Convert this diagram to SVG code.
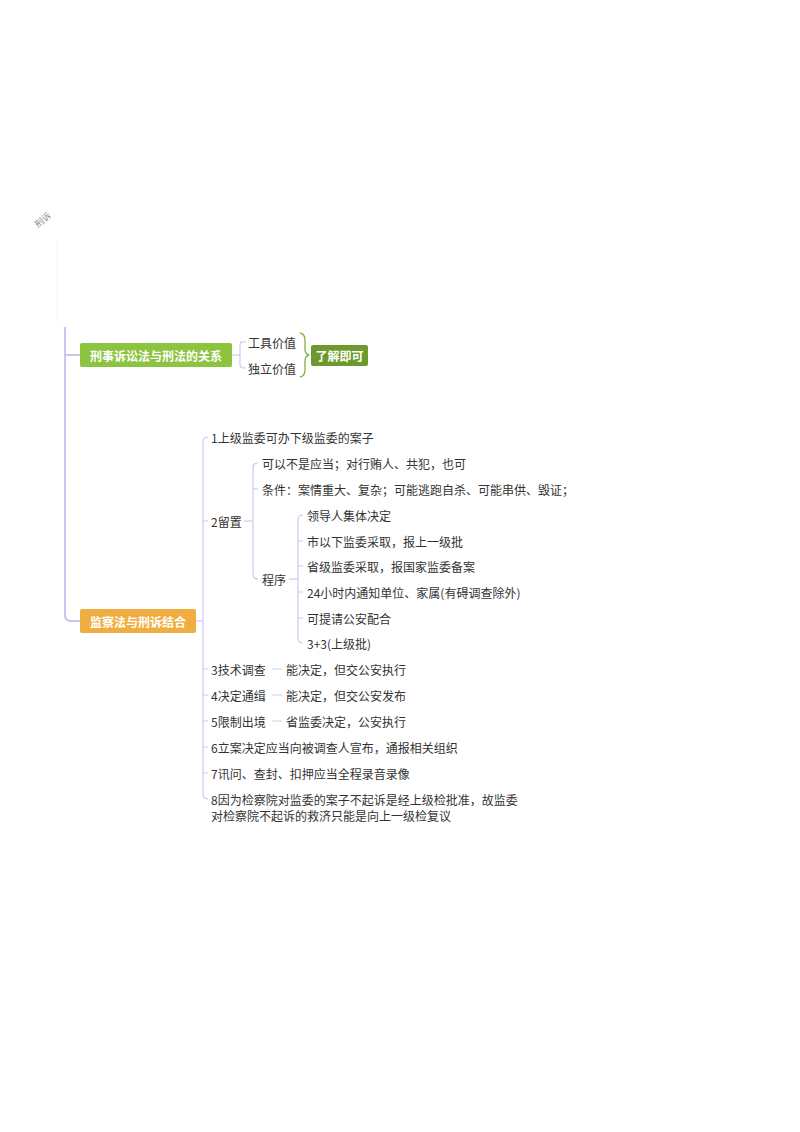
<svg xmlns="http://www.w3.org/2000/svg" width="800" height="1132" viewBox="0 0 800 1132">
<style>
.t{font-family:"Noto Sans CJK SC","Noto Sans",sans-serif;font-size:12px;fill:#333333;dominant-baseline:central}
.nt{font-family:"Noto Sans CJK SC","Noto Sans",sans-serif;font-size:12px;font-weight:bold;fill:#ffffff;dominant-baseline:central;text-anchor:middle}
.c{fill:none;stroke:#cfc8f2;stroke-width:1.2}
.trunk{fill:none;stroke:#cbc3f0;stroke-width:2}
</style>
<rect width="800" height="1132" fill="#ffffff"/>
<text x="33" y="224" transform="rotate(-40 41 219)" style="font-family:'Noto Sans CJK SC',sans-serif;font-size:9px;fill:#8a8a8a">刑诉</text>
<g id="connectors">
<path d="M57.5 240 V322" stroke="#f5f5f8" stroke-width="1.5" fill="none"/>
<path class="trunk" d="M65 327 V615 Q65 621 71 621 H80"/>
<path class="trunk" d="M65 355 H80"/>
<path class="c" d="M232 355 H240"/>
<path class="c" d="M244 342 Q240 342 240 346 V364 Q240 368 244 368 H246 M240 342 H246"/>
<path d="M300 333 Q305 334 305 340 V349 Q305 354 309 355 Q305 356 305 361 V370 Q305 376 300 377" fill="none" stroke="#7cb342" stroke-width="1.3"/>
<path class="c" d="M196 621 H203"/>
<path class="c" d="M208 437 Q203 437 203 442 V794 Q203 799 208 799"/>
<path class="c" d="M203 521 H208 M203 669 H208 M203 695 H208 M203 721 H208 M203 747 H208 M203 773 H208"/>
<path class="c" d="M272 669 H282 M272 695 H282 M272 721 H282"/>
<path class="c" d="M244 521 H253"/>
<path class="c" d="M258 463 Q253 463 253 468 V574 Q253 579 258 579"/>
<path class="c" d="M253 489 H258"/>
<path class="c" d="M289 579 H298"/>
<path class="c" d="M303 515 Q298 515 298 520 V638 Q298 643 303 643"/>
<path class="c" d="M298 541 H303 M298 566 H303 M298 592 H303 M298 618 H303"/>
</g>
<g id="node-relation">
<rect x="80" y="343" width="152" height="24" rx="2" fill="#8cc43f"/>
<text class="nt" x="156" y="355">刑事诉讼法与刑法的关系</text>
</g>
<g id="node-tool"><text class="t" x="248" y="342">工具价值</text></g>
<g id="node-indep"><text class="t" x="248" y="368">独立价值</text></g>
<g id="node-know">
<rect x="311" y="345" width="57" height="21" rx="2" fill="#6c9a2c"/>
<text class="nt" x="339.5" y="355.5">了解即可</text>
</g>
<g id="node-combine">
<rect x="80" y="609" width="116" height="24" rx="2" fill="#f0ae42"/>
<text class="nt" x="138" y="621">监察法与刑诉结合</text>
</g>
<g id="n1"><text class="t" x="211" y="437">1上级监委可办下级监委的案子</text></g>
<g id="n2"><text class="t" x="211" y="521">2留置</text></g>
<g id="n2a"><text class="t" x="262" y="463">可以不是应当；对行贿人、共犯，也可</text></g>
<g id="n2b"><text class="t" x="262" y="489">条件：案情重大、复杂；可能逃跑自杀、可能串供、毁证；</text></g>
<g id="n2c"><text class="t" x="262" y="579">程序</text></g>
<g id="p1"><text class="t" x="307" y="515">领导人集体决定</text></g>
<g id="p2"><text class="t" x="307" y="541">市以下监委采取，报上一级批</text></g>
<g id="p3"><text class="t" x="307" y="566">省级监委采取，报国家监委备案</text></g>
<g id="p4"><text class="t" x="307" y="592">24小时内通知单位、家属(有碍调查除外)</text></g>
<g id="p5"><text class="t" x="307" y="618">可提请公安配合</text></g>
<g id="p6"><text class="t" x="307" y="643">3+3(上级批)</text></g>
<g id="n3"><text class="t" x="211" y="669">3技术调查</text></g>
<g id="n3a"><text class="t" x="286" y="669">能决定，但交公安执行</text></g>
<g id="n4"><text class="t" x="211" y="695">4决定通缉</text></g>
<g id="n4a"><text class="t" x="286" y="695">能决定，但交公安发布</text></g>
<g id="n5"><text class="t" x="211" y="721">5限制出境</text></g>
<g id="n5a"><text class="t" x="286" y="721">省监委决定，公安执行</text></g>
<g id="n6"><text class="t" x="211" y="747">6立案决定应当向被调查人宣布，通报相关组织</text></g>
<g id="n7"><text class="t" x="211" y="773">7讯问、查封、扣押应当全程录音录像</text></g>
<g id="n8"><text class="t" x="211" y="799">8因为检察院对监委的案子不起诉是经上级检批准，故监委</text><text class="t" x="211" y="815">对检察院不起诉的救济只能是向上一级检复议</text></g>
</svg>
